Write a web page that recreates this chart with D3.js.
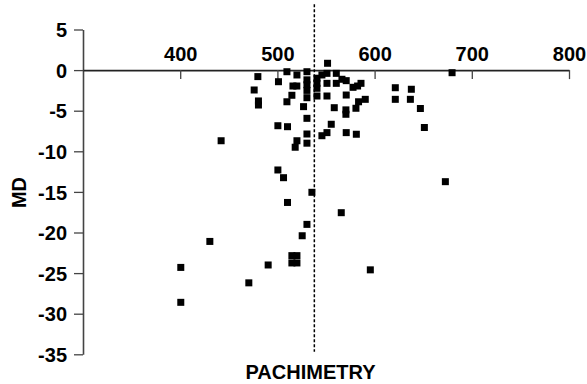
<!DOCTYPE html>
<html>
<head>
<meta charset="utf-8">
<script src="https://cdn.jsdelivr.net/npm/d3@7"></script>
<style>
  body { margin: 0; background: #fff; }
  text { font-family: "Liberation Sans", Arial, sans-serif; font-weight: bold; }
</style>
</head>
<body>
<div id="chart"></div>
<script>
// pachimetry (x) vs MD (y)
const pachimetry = [
  400.6, 400.6, 430.5, 442.1, 470.6, 490.5, 476.1, 479.9, 480.5, 480.5,
  500.5, 501.1, 509.8, 510.4, 500.5, 506.3, 510.4, 509.8, 514.9, 516,
  520, 520.1, 526.9, 530.4, 530.4, 530.4, 530.4, 530.4, 530.4, 530.4,
  530.4, 520.1, 518.3, 535.5, 530.4, 525.5, 514.9, 520.1, 514.9, 520.1,
  540.7, 540.7, 540.7, 540.7, 545.8, 551, 551.6, 560.6, 566.4, 570.8,
  551, 560.6, 577.8, 582.5, 586, 621.3, 637.8, 551, 570.8, 583.5,
  590.4, 621.3, 636.8, 558.5, 570.5, 570.5, 580.8, 647.1, 555.4, 651.2,
  551, 545.8, 570.8, 581.2, 565.7, 595.6, 672.8, 679.7
];
const md = [
  -24.3, -28.6, -21.1, -8.7, -26.2, -24.0, -2.45, -0.8, -3.8, -4.3,
  -6.85, -1.43, -0.2, -6.97, -12.3, -13.25, -16.3, -3.9, -3.1, -1.96,
  -1.96, -0.6, -4.5, -0.2, -1.2, -1.8, -2.5, -3.4, -5.94, -7.87,
  -9.0, -8.7, -9.5, -15.05, -19.0, -20.4, -22.85, -22.85, -23.75, -23.75,
  -1.0, -1.63, -2.24, -3.19, -0.6, -0.4, 0.84, -0.4, -1.13, -1.3,
  -1.63, -1.63, -2.12, -1.96, -1.63, -2.17, -2.36, -3.19, -3.07, -3.9,
  -3.6, -3.6, -3.6, -4.63, -4.9, -5.44, -4.7, -4.73, -6.67, -7.07,
  -7.7, -8.08, -7.7, -7.9, -17.56, -24.6, -13.74, -0.32
];
const xTicks = [400, 500, 600, 700, 800];
const yTicks = [5, 0, -5, -10, -15, -20, -25, -30, -35];
const refLine = 538;

const width = 587, height = 384;
const svg = d3.select('#chart').append('svg')
  .attr('width', width)
  .attr('height', height);

const x = d3.scaleLinear().domain([300, 800]).range([83, 569]);
const y = d3.scaleLinear().domain([-35, 5]).range([354.3, 29.5]);

// y axis
const yAxis = svg.append('g')
  .attr('transform', `translate(${x(300)},0)`)
  .call(d3.axisLeft(y).tickValues(yTicks).tickSize(9).tickSizeOuter(0).tickPadding(7)
    .tickFormat(d => String(d)));
yAxis.select('.domain').attr('stroke', '#444').attr('stroke-width', 1.6);
yAxis.selectAll('.tick line').attr('stroke', '#444').attr('stroke-width', 1.3);
yAxis.selectAll('text').attr('fill', '#000').style('font-size', '20px').attr('dy', '0.36em');

// x axis along MD = 0, labels above, ticks pointing down
const xAxis = svg.append('g')
  .attr('transform', `translate(0,${y(0)})`)
  .call(d3.axisTop(x).tickValues(xTicks).tickSize(-9).tickSizeOuter(0).tickPadding(9));
xAxis.select('.domain').attr('stroke', '#222').attr('stroke-width', 1.6);
xAxis.selectAll('.tick line').attr('stroke', '#444').attr('stroke-width', 1.3);
xAxis.selectAll('text').attr('fill', '#000').style('font-size', '20px');

// dashed reference line
svg.append('line')
  .attr('x1', x(refLine)).attr('x2', x(refLine))
  .attr('y1', y(8.1)).attr('y2', y(-34.7))
  .attr('stroke', '#000')
  .attr('stroke-width', 1.5)
  .attr('stroke-dasharray', '3,2');

// points
const s = 7;
svg.selectAll('rect.pt')
  .data(d3.range(pachimetry.length))
  .enter()
  .append('rect')
  .attr('class', 'pt')
  .attr('x', i => x(pachimetry[i]) - s / 2)
  .attr('y', i => y(md[i]) - s / 2)
  .attr('width', s)
  .attr('height', s)
  .attr('fill', '#000');

// axis titles
svg.append('text')
  .attr('x', 310.5)
  .attr('y', 379)
  .attr('text-anchor', 'middle')
  .style('font-size', '20px')
  .text('PACHIMETRY');

svg.append('text')
  .attr('transform', `translate(25.5,${192.5}) rotate(-90)`)
  .attr('text-anchor', 'middle')
  .style('font-size', '20px')
  .text('MD');
</script>
</body>
</html>
